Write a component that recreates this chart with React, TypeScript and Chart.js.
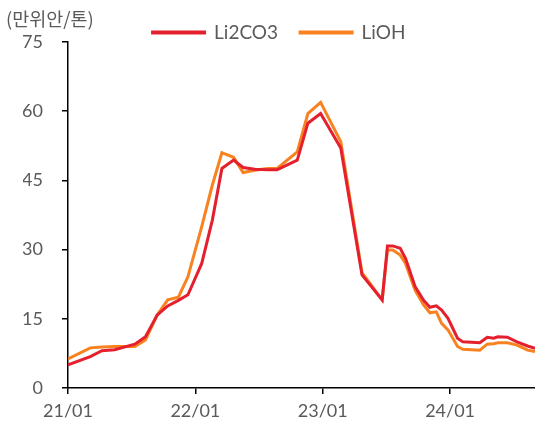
import React, { useEffect, useRef } from "react";
import { Chart, registerables } from "chart.js";

Chart.register(...registerables);

// month index since 2021/01 (fractional = within-month samples)
const months = [
  0, 2.1, 3.2, 4.4, 6.3, 7.3, 8.4, 9.4, 10.4, 11.3, 12.6, 13.6, 14.5, 15.6, 16.5,
  17.6, 18.8, 19.7, 21.6, 22.6, 23.8, 25.7, 27.7, 29.6, 30.1, 30.6, 31.3, 31.8,
  32.7, 33.5, 34.1, 34.7, 35.2, 35.8, 36.7, 37.2, 38.8, 39.5, 40.1, 40.5, 41.4,
  42.3, 43.3, 44.0,
];
const li2co3 = [
  5.0, 6.8, 8.1, 8.3, 9.5, 11.1, 15.8, 17.8, 19.0, 20.2, 27.0, 36.4, 47.6, 49.4,
  47.8, 47.4, 47.3, 47.3, 49.4, 57.4, 59.5, 52.0, 24.5, 19.1, 30.8, 30.8, 30.3,
  28.1, 22.0, 19.0, 17.5, 17.8, 16.9, 15.1, 10.8, 10.0, 9.8, 11.0, 10.8, 11.1,
  11.0, 10.0, 9.1, 8.6,
];
const lioh = [
  6.3, 8.7, 8.9, 9.0, 9.0, 10.4, 15.8, 19.1, 19.7, 24.1, 35.0, 44.0, 51.0, 50.0,
  46.7, 47.2, 47.6, 47.6, 51.2, 59.5, 61.9, 53.4, 25.0, 19.1, 29.9, 29.9, 28.8,
  27.0, 21.2, 18.0, 16.3, 16.5, 14.0, 12.6, 9.0, 8.4, 8.2, 9.5, 9.6, 9.8, 9.8,
  9.3, 8.2, 7.9,
];
const xTickLabels: Record<number, string> = { 0: "21/01", 12: "22/01", 24: "23/01", 36: "24/01" };
const yTicks = [0, 15, 30, 45, 60, 75];
const unitLabel = "(만위안/톤)";

const FONT = "Lato, 'Noto Sans', sans-serif";
const GRAY = "#5a5a5a";

export default function App() {
  const ref = useRef<HTMLCanvasElement | null>(null);
  useEffect(() => {
    document.body.style.margin = "0";
    const ctx = ref.current!;
    const chart = new Chart(ctx, {
      type: "line",
      data: {
        datasets: [
          {
            label: "Li2CO3",
            data: months.map((m, i) => ({ x: m, y: li2co3[i] })),
            borderColor: "#E5202E",
            backgroundColor: "#E5202E",
            borderWidth: 3,
            pointRadius: 0,
            tension: 0,
          },
          {
            label: "LiOH",
            data: months.map((m, i) => ({ x: m, y: lioh[i] })),
            borderColor: "#F7821F",
            backgroundColor: "#F7821F",
            borderWidth: 3,
            pointRadius: 0,
            tension: 0,
          },
        ],
      },
      options: {
        responsive: false,
        animation: false,
        layout: { padding: { left: 23, right: 0, top: 1, bottom: 0 } },
        plugins: {
          tooltip: { enabled: false },
          legend: {
            display: true,
            position: "top",
            maxHeight: 41,
            labels: {
              boxWidth: 52,
              boxHeight: 1,
              padding: 22,
              color: GRAY,
              font: { family: FONT, size: 19 },
            },
          },
        },
        scales: {
          x: {
            type: "linear",
            min: 0,
            max: 44,
            afterFit: (s: any) => {
              s.height = 42;
            },
            afterBuildTicks: (s: any) => {
              s.ticks = Object.keys(xTickLabels).map((k) => ({ value: Number(k) }));
            },
            ticks: {
              includeBounds: false,
              autoSkip: false,
              maxRotation: 0,
              padding: 6,
              color: GRAY,
              font: { family: FONT, size: 18 },
              callback: (v: any) => xTickLabels[Number(v)] ?? "",
            },
            grid: { display: true, drawOnChartArea: false, tickLength: 6, color: "#000", lineWidth: 1.5 },
            border: { display: true, color: "#000", width: 1.5 },
          },
          y: {
            min: 0,
            max: 75,
            afterFit: (s: any) => {
              s.width = 45;
            },
            afterBuildTicks: (s: any) => {
              s.ticks = yTicks.map((v) => ({ value: v }));
            },
            ticks: {
              padding: 19,
              crossAlign: "near",
              color: GRAY,
              font: { family: FONT, size: 18 },
            },
            grid: { display: true, drawOnChartArea: false, tickLength: 6, color: "#000", lineWidth: 1.5 },
            border: { display: true, color: "#000", width: 1.5 },
          },
        },
      },
    });
    return () => chart.destroy();
  }, []);
  return (
    <div style={{ position: "absolute", left: 0, top: 0, width: 535, height: 430 }}>
      <canvas ref={ref} width={535} height={430} />
      <div
        style={{
          position: "absolute",
          left: 6,
          top: 6,
          fontFamily: "'Noto Sans CJK KR', sans-serif",
          fontSize: 18.5,
          color: GRAY,
          lineHeight: "24px",
          whiteSpace: "nowrap",
        }}
      >
        {unitLabel}
      </div>
    </div>
  );
}
